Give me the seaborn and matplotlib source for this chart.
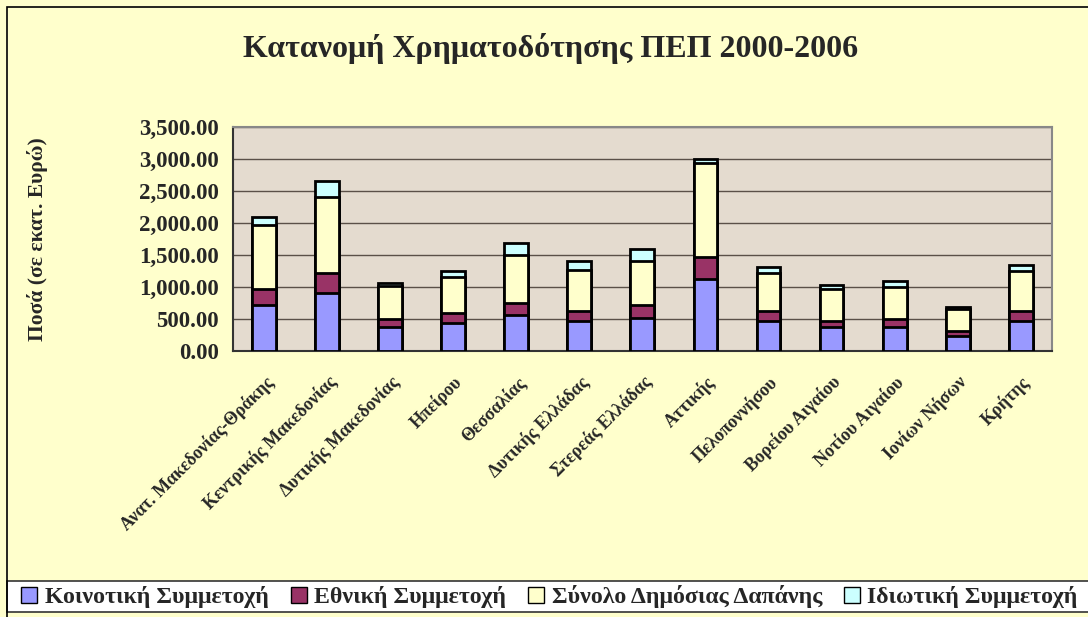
import matplotlib
matplotlib.use("Agg")
import matplotlib.pyplot as plt
import matplotlib.ticker as mticker
from matplotlib.patches import Rectangle
from matplotlib.lines import Line2D
import seaborn as sns
import pandas as pd
import numpy as np

regions = ["Ανατ. Μακεδονίας-Θράκης", "Κεντρικής Μακεδονίας", "Δυτικής Μακεδονίας",
           "Ηπείρου", "Θεσσαλίας", "Δυτικής Ελλάδας", "Στερεάς Ελλάδας", "Αττικής",
           "Πελοποννήσου", "Βορείου Αιγαίου", "Νοτίου Αιγαίου", "Ιονίων Νήσων", "Κρήτης"]
koinotiki = [713, 906, 375, 437, 562, 469, 521, 1125, 469, 375, 375, 240, 469]
ethniki = [250, 313, 125, 162, 188, 156, 198, 344, 156, 94, 125, 72, 156]
dimosia = [1000, 1187, 510, 557, 750, 646, 687, 1468, 594, 500, 500, 344, 625]
idiotiki = [125, 250, 52, 94, 187, 135, 188, 63, 93, 62, 94, 31, 94]

series_names = ["Κοινοτική Συμμετοχή", "Εθνική Συμμετοχή",
                "Σύνολο Δημόσιας Δαπάνης", "Ιδιωτική Συμμετοχή"]
colors = ["#9999FF", "#993366", "#FFFFCC", "#CCFFFF"]

sns.set_theme(style="white")
plt.rcParams["font.family"] = ["Liberation Serif", "DejaVu Serif"]
plt.rcParams["font.weight"] = "bold"

bg = "#FFFFCC"
fig = plt.figure(figsize=(10.88, 6.17), dpi=100, facecolor=bg)
ax = fig.add_axes([0.214, 0.431, 0.753, 0.363])
ax.set_facecolor("#E4DBCF")

df = pd.DataFrame({"region": regions, "k": koinotiki, "e": ethniki,
                   "d": dimosia, "i": idiotiki})
layers = [df["k"], df["k"] + df["e"], df["k"] + df["e"] + df["d"],
          df["k"] + df["e"] + df["d"] + df["i"]]

for z, (vals, col) in enumerate(zip(layers[::-1], colors[::-1])):
    sns.barplot(x=df["region"], y=vals, color=col, saturation=1, width=0.38,
                edgecolor="black", linewidth=2, ax=ax, zorder=3 + z,
                order=regions)

ax.set_ylim(0, 3500)
ax.set_xlim(-0.5, len(regions) - 0.5)
ax.yaxis.set_major_locator(mticker.MultipleLocator(500))
ax.yaxis.set_major_formatter(mticker.FuncFormatter(lambda v, p: f"{v:,.2f}"))
ax.grid(axis="y", color="#5a5048", linewidth=1, zorder=1)
ax.set_axisbelow(True)
ax.set_xlabel("")
ax.set_ylabel("Ποσά (σε εκατ. Ευρώ)", fontsize=15.5, fontweight="bold")
ax.yaxis.set_label_coords(-0.225, 0.5)

ax.set_xticks(range(len(regions)))
ax.set_xticklabels(regions, rotation=45, ha="right", va="top",
                   rotation_mode="anchor", fontsize=13, fontweight="bold")
ax.set_xticks(np.arange(-0.5, len(regions), 1), minor=True)
ax.tick_params(axis="x", which="major", length=0, pad=16)
ax.tick_params(axis="x", which="minor", length=6, width=1, color="#333333", direction="out")
ax.tick_params(axis="y", length=6, width=1, color="#333333", direction="out",
               labelsize=16.5, pad=4)
for lab in ax.get_yticklabels():
    lab.set_fontweight("bold")

for s in ["top", "right"]:
    ax.spines[s].set_color("#888888")
    ax.spines[s].set_linewidth(1.5)
for s in ["left", "bottom"]:
    ax.spines[s].set_color("#333333")
    ax.spines[s].set_linewidth(1.5)
    ax.spines[s].set_visible(True)
ax.spines["top"].set_visible(True)
ax.spines["right"].set_visible(True)

fig.text(0.506, 0.922, "Κατανομή Χρηματοδότησης ΠΕΠ 2000-2006",
         ha="center", va="center", fontsize=23, fontweight="bold")

# outer chart border and legend box
fig.add_artist(Rectangle((7 / 1088, -0.1), 1.2, 1 - 7 / 617 + 0.1,
                         transform=fig.transFigure, fill=False,
                         edgecolor="black", linewidth=1.2))
fig.add_artist(Rectangle((7 / 1088, 1 - 612 / 617), 1.2, 31 / 617,
                         transform=fig.transFigure, facecolor="white",
                         edgecolor="#333333", linewidth=1.2, zorder=0.5))

handles = [Line2D([0], [0], marker="s", linestyle="none", markersize=11,
                  markerfacecolor=c, markeredgecolor="black", markeredgewidth=1)
           for c in colors]
leg = fig.legend(handles, series_names, loc="center left",
                 bbox_to_anchor=(0.016, 1 - 597 / 617), ncol=4, frameon=False,
                 handletextpad=0.15, columnspacing=0.75, handlelength=1.0,
                 borderaxespad=0, borderpad=0,
                 prop={"size": 17.2, "weight": "bold"})

fig.savefig("out.png", dpi=100, facecolor=bg)
